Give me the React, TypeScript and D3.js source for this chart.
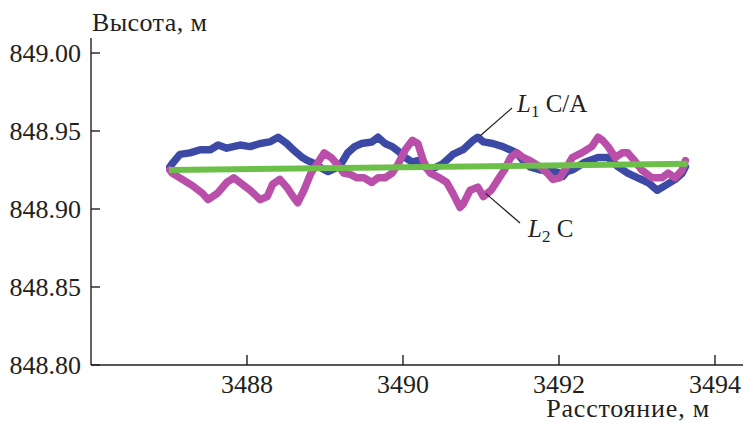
import React from "react";
import * as d3 from "d3";

const W = 743;
const H = 423;

const xTicks = [3488, 3490, 3492, 3494];
const yTicks = [848.8, 848.85, 848.9, 848.95, 849.0];

// L1 C/A (blue)
const l1X = [3487.01, 3487.04, 3487.14, 3487.27, 3487.40, 3487.53, 3487.63, 3487.74, 3487.91, 3488.04, 3488.17, 3488.29, 3488.40, 3488.51, 3488.59, 3488.71, 3488.78, 3488.87, 3488.96, 3489.04, 3489.13, 3489.22, 3489.29, 3489.38, 3489.47, 3489.60, 3489.68, 3489.77, 3489.86, 3489.94, 3490.03, 3490.12, 3490.19, 3490.28, 3490.35, 3490.51, 3490.64, 3490.77, 3490.90, 3490.96, 3491.03, 3491.15, 3491.28, 3491.37, 3491.46, 3491.54, 3491.63, 3491.76, 3491.88, 3492.01, 3492.05, 3492.10, 3492.17, 3492.33, 3492.50, 3492.63, 3492.76, 3492.88, 3493.01, 3493.14, 3493.26, 3493.36, 3493.49, 3493.58, 3493.62];
const l1Y = [848.927, 848.929, 848.935, 848.936, 848.938, 848.938, 848.941, 848.939, 848.941, 848.940, 848.942, 848.943, 848.946, 848.942, 848.938, 848.933, 848.931, 848.929, 848.926, 848.924, 848.926, 848.930, 848.936, 848.940, 848.942, 848.943, 848.946, 848.942, 848.940, 848.937, 848.933, 848.930, 848.931, 848.927, 848.925, 848.929, 848.935, 848.938, 848.944, 848.946, 848.943, 848.942, 848.940, 848.938, 848.936, 848.931, 848.927, 848.925, 848.925, 848.923, 848.921, 848.924, 848.925, 848.930, 848.933, 848.933, 848.927, 848.923, 848.920, 848.917, 848.912, 848.915, 848.919, 848.923, 848.927];

// L2 C (magenta)
const l2X = [3487.01, 3487.04, 3487.17, 3487.30, 3487.43, 3487.50, 3487.62, 3487.74, 3487.83, 3487.91, 3488.04, 3488.17, 3488.26, 3488.33, 3488.42, 3488.51, 3488.59, 3488.65, 3488.73, 3488.82, 3488.90, 3488.99, 3489.08, 3489.15, 3489.24, 3489.33, 3489.41, 3489.50, 3489.60, 3489.68, 3489.77, 3489.86, 3489.94, 3490.03, 3490.12, 3490.19, 3490.26, 3490.32, 3490.35, 3490.47, 3490.56, 3490.64, 3490.73, 3490.77, 3490.86, 3490.96, 3491.03, 3491.13, 3491.22, 3491.30, 3491.38, 3491.46, 3491.54, 3491.63, 3491.76, 3491.85, 3491.92, 3492.01, 3492.10, 3492.17, 3492.29, 3492.42, 3492.50, 3492.56, 3492.63, 3492.72, 3492.81, 3492.88, 3492.97, 3493.06, 3493.19, 3493.32, 3493.40, 3493.49, 3493.58, 3493.62];
const l2Y = [848.925, 848.923, 848.919, 848.915, 848.910, 848.906, 848.910, 848.917, 848.920, 848.917, 848.912, 848.906, 848.908, 848.916, 848.919, 848.914, 848.908, 848.904, 848.912, 848.923, 848.929, 848.936, 848.933, 848.929, 848.923, 848.922, 848.920, 848.920, 848.917, 848.920, 848.920, 848.923, 848.929, 848.938, 848.944, 848.942, 848.931, 848.925, 848.923, 848.920, 848.917, 848.910, 848.901, 848.903, 848.912, 848.914, 848.908, 848.912, 848.919, 848.925, 848.933, 848.936, 848.933, 848.931, 848.927, 848.923, 848.919, 848.920, 848.927, 848.933, 848.936, 848.940, 848.946, 848.944, 848.940, 848.933, 848.936, 848.936, 848.931, 848.925, 848.920, 848.920, 848.923, 848.920, 848.925, 848.931];

// reference / fitted line (green)
const fitX = [3487.0, 3493.65];
const fitY = [848.925, 848.929];

const FONT = "Liberation Serif, Tinos, Times New Roman, DejaVu Serif, serif";

export default function App() {
  const left = 91, right = 743, top = 53, bottom = 365;
  const x = d3.scaleLinear().domain([3486, 3486 + (right - left) / 78]).range([left, right]);
  const y = d3.scaleLinear().domain([848.8, 849.0]).range([bottom, top]);
  const line = d3.line<[number, number]>().x(d => x(d[0])).y(d => y(d[1])).curve(d3.curveLinear);
  const toPts = (xs: number[], ys: number[]) => xs.map((v, i) => [v, ys[i]] as [number, number]);
  const axisColor = "#231f20";
  const ts = { fontFamily: FONT } as React.CSSProperties;

  // annotation anchors (data coords)
  const a1 = [3490.99, 848.947];
  const a2 = [3491.06, 848.910];

  return (
    <svg width={W} height={H} style={{ position: "absolute", left: 0, top: 0, background: "#fff", fontFamily: FONT }}>
      <rect width={W} height={H} fill="#fff" />
      {/* axes */}
      <line x1={left} x2={left} y1={y(849.0096)} y2={bottom} stroke={axisColor} strokeWidth={1.4} />
      <line x1={left} x2={right} y1={bottom} y2={bottom} stroke={axisColor} strokeWidth={1.4} />
      {yTicks.map(t => (
        <g key={"y" + t}>
          <line x1={left} x2={left + 9} y1={y(t)} y2={y(t)} stroke={axisColor} strokeWidth={1.4} />
          <text style={ts} x={left - 10} y={y(t)} dy="0.36em" textAnchor="end" fontSize={26} fill={axisColor}>{d3.format(".2f")(t)}</text>
        </g>
      ))}
      {xTicks.map(t => (
        <g key={"x" + t}>
          <line x1={x(t)} x2={x(t)} y1={bottom} y2={bottom - 10} stroke={axisColor} strokeWidth={1.4} />
          <text style={ts} x={x(t)} y={393} textAnchor="middle" fontSize={26} fill={axisColor}>{t}</text>
        </g>
      ))}
      <text style={ts} x={92} y={31} fontSize={26} letterSpacing={0.4} fill={axisColor}>Высота, м</text>
      <text style={ts} x={710} y={417} textAnchor="end" fontSize={26} letterSpacing={0.8} fill={axisColor}>Расстояние, м</text>

      {/* series */}
      <path d={line(toPts(l1X, l1Y)) || ""} fill="none" stroke="#3c4aa5" strokeWidth={7.5} strokeLinejoin="round" strokeLinecap="round" />
      <path d={line(toPts(l2X, l2Y)) || ""} fill="none" stroke="#b94fa8" strokeWidth={7.5} strokeLinejoin="round" strokeLinecap="round" />
      <path d={line(toPts(fitX, fitY)) || ""} fill="none" stroke="#6cc04a" strokeWidth={6} strokeLinecap="butt" />

      {/* annotations */}
      <line x1={x(a1[0])} y1={y(a1[1])} x2={512} y2={108} stroke={axisColor} strokeWidth={1.2} />
      <text style={ts} x={517} y={112} fontSize={25} fill={axisColor}>
        <tspan fontStyle="italic">L</tspan>
        <tspan fontSize={17} dy={5}>1</tspan>
        <tspan dy={-5}> C/A</tspan>
      </text>
      <line x1={x(a2[0])} y1={y(a2[1])} x2={520} y2={223} stroke={axisColor} strokeWidth={1.2} />
      <text style={ts} x={528} y={237} fontSize={25} fill={axisColor}>
        <tspan fontStyle="italic">L</tspan>
        <tspan fontSize={17} dy={5}>2</tspan>
        <tspan dy={-5}> C</tspan>
      </text>
    </svg>
  );
}
